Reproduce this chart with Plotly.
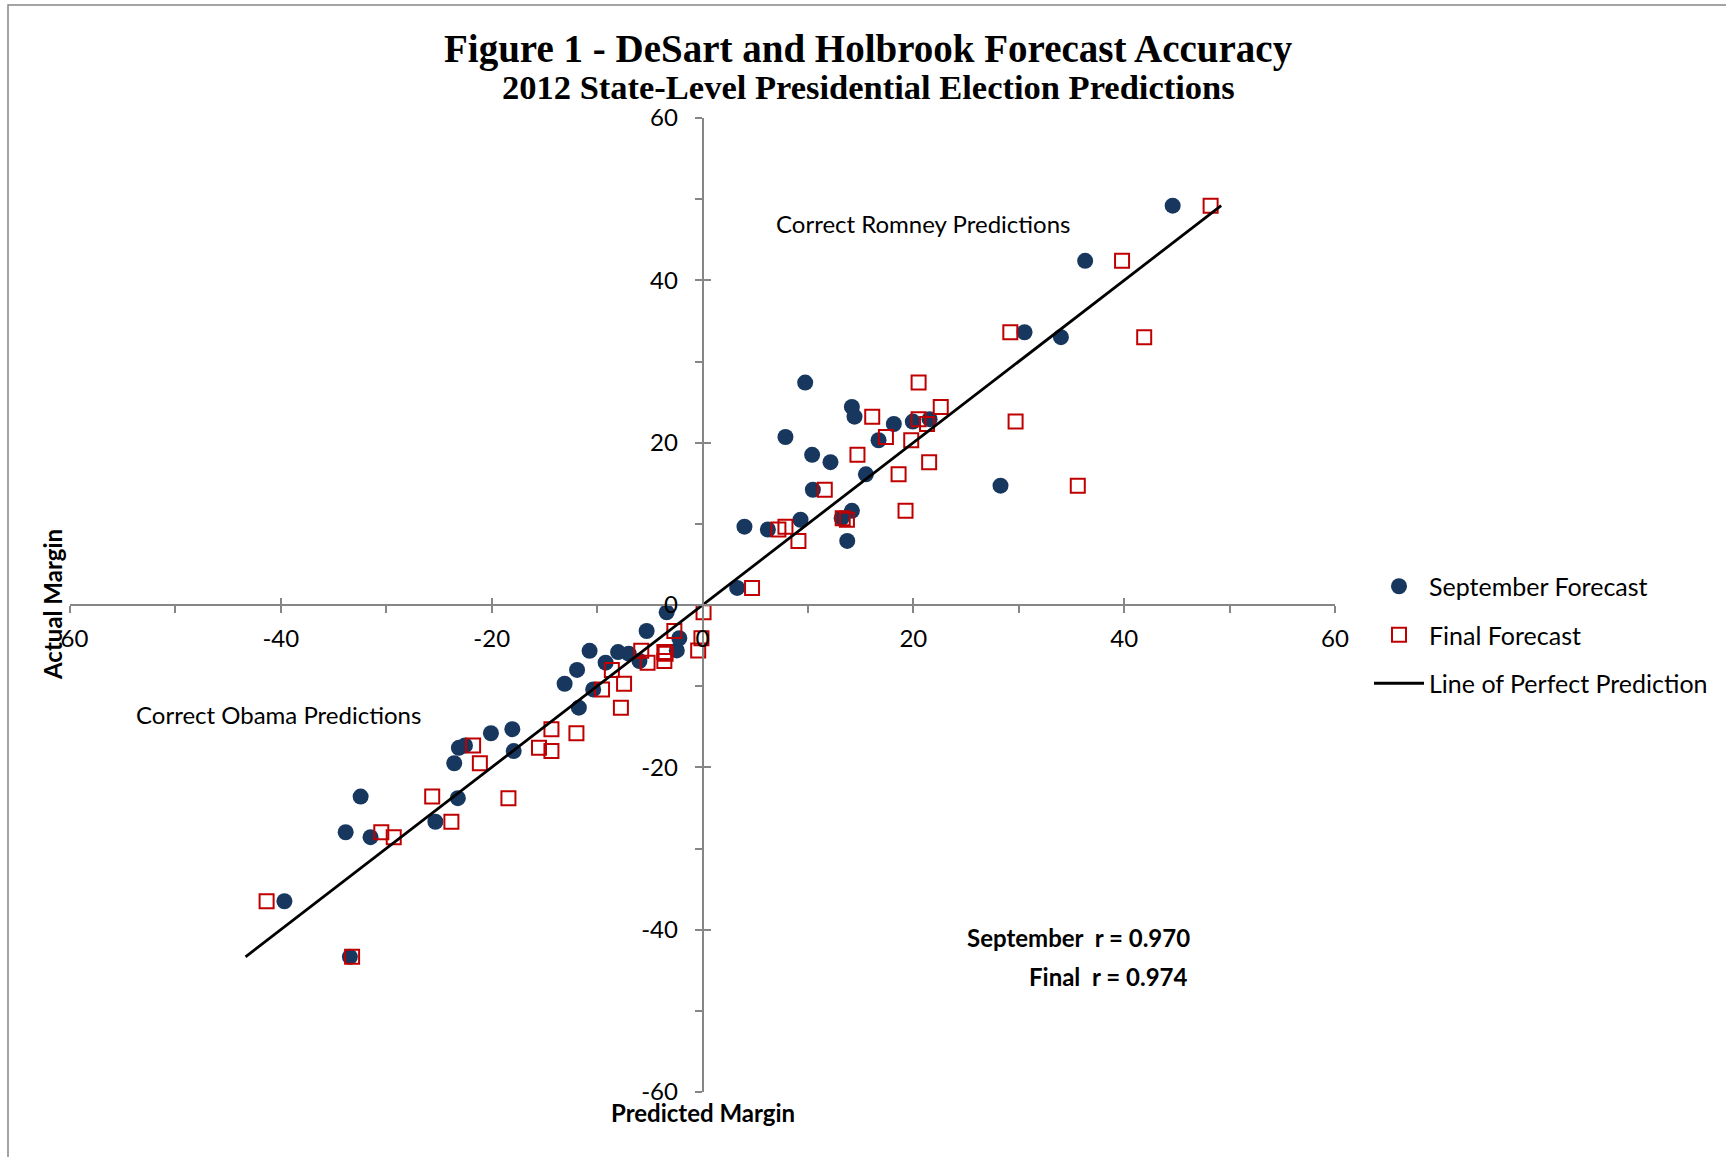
import plotly.graph_objects as go

# ---- data ----
# actual two-party margin (Romney minus Obama), one value per state
actual = [-43.35, -36.5, -28.6, -28.0, -26.7, -23.8, -23.6, -19.5, -18.0, -17.6,
          -17.3, -15.8, -15.3, -12.65, -10.4, -9.7, -8.0, -7.1, -6.9, -6.0,
          -5.8, -5.65, -5.6, -4.1, -3.2, -0.9,
          2.1, 7.9, 9.3, 9.65, 10.5, 10.7, 11.6, 14.2, 14.7, 16.1,
          17.6, 18.5, 20.3, 20.7, 22.3, 22.6, 22.9, 23.2, 24.4, 27.4,
          33.0, 33.6, 42.4, 49.2]
# September forecast margin
september = [-33.45, -39.66, -31.49, -33.85, -25.34, -23.21, -32.43, -23.55, -17.91, -23.11,
             -22.53, -20.07, -18.04, -11.73, -10.37, -13.08, -11.9, -9.19, -5.98, -7.0,
             -8.01, -10.71, -2.44, -2.2, -5.3, -3.4,
             3.29, 13.73, 6.2, 3.98, 9.3, 13.2, 14.17, 10.47, 28.27, 15.5,
             12.14, 10.4, 16.7, 7.87, 18.15, 19.95, 21.54, 14.42, 14.17, 9.74,
             34.0, 30.55, 36.3, 44.6]
# Final forecast margin
final = [-33.24, -41.35, -29.29, -30.47, -23.82, -18.41, -25.64, -21.12, -14.33, -15.51,
         -21.76, -11.96, -14.33, -7.74, -9.53, -7.44, -8.6, -5.21, -3.62, -3.5,
         -3.62, -5.81, -0.41, -0.1, -2.67, 0.1,
         4.7, 9.1, 7.2, 7.87, 13.7, 13.3, 19.26, 11.6, 35.6, 18.6,
         21.5, 14.7, 19.8, 17.4, 21.3, 29.7, 20.5, 16.1, 22.6, 20.5,
         41.9, 29.2, 39.8, 48.2]

axis_ticks = [-60, -40, -20, 0, 20, 40, 60]

title_text = "Figure 1 - DeSart and Holbrook Forecast Accuracy"
subtitle_text = "2012 State-Level Presidential Election Predictions"

# ---- layout geometry ----
W, H = 1726, 1157
ML, MR, MT, MB = 70, 391, 118, 65
PW, PH = W - ML - MR, H - MT - MB


def px(x):
    return (x - ML) / PW


def py(y):
    return (H - MB - y) / PH


BODY = "Lato"
SERIF = "Liberation Serif"
AXC = "#868686"

line_min, line_max = min(actual), max(actual)

fig = go.Figure()
fig.add_trace(go.Scatter(
    x=september, y=actual, mode="markers", name="September Forecast",
    legendgroup="a",
    marker=dict(symbol="circle", size=16, color="#17375E", line=dict(width=0))))
fig.add_trace(go.Scatter(
    x=final, y=actual, mode="markers", name="Final Forecast",
    legendgroup="b",
    marker=dict(symbol="square-open", size=14, color="#C00000", line=dict(width=2, color="#C00000"))))
fig.add_trace(go.Scatter(
    x=[line_min, line_max], y=[line_min, line_max], mode="lines",
    name="Line of Perfect Prediction", legendgroup="c",
    line=dict(color="black", width=2.8), xaxis="x2", yaxis="y2"))

common = dict(range=[-60, 60], showgrid=False, zeroline=False, anchor="free", position=0.5)

fig.update_layout(
    width=W, height=H,
    margin=dict(l=ML, r=MR, t=MT, b=MB),
    paper_bgcolor="white", plot_bgcolor="white",
    font=dict(family=BODY, size=24, color="black"),
    showlegend=True,
    legend=dict(x=px(1369), y=py(563.5), xanchor="left", yanchor="top",
                font=dict(family=BODY, size=25, color="black"),
                tracegroupgap=13, itemwidth=50, bgcolor="rgba(0,0,0,0)"),
    xaxis=dict(**common, showline=True, linecolor=AXC, linewidth=1.5,
               ticks="outside", ticklen=7, tickwidth=1.5, tickcolor=AXC,
               tickvals=axis_ticks, ticktext=[str(v) for v in axis_ticks],
               ticklabelstandoff=5,
               tickfont=dict(family=BODY, size=24, color="black"),
               minor=dict(ticks="outside", ticklen=7, tickwidth=1.5, tickcolor=AXC,
                          dtick=10, tick0=0, showgrid=False)),
    yaxis=dict(**common, showline=True, linecolor=AXC, linewidth=1.5,
               ticks="outside", ticklen=7, tickwidth=1.5, tickcolor=AXC,
               tickvals=axis_ticks, ticktext=[str(v) for v in axis_ticks],
               ticklabelstandoff=12,
               tickfont=dict(family=BODY, size=24, color="black"),
               minor=dict(ticks="outside", ticklen=7, tickwidth=1.5, tickcolor=AXC,
                          dtick=10, tick0=0, showgrid=False)),
    xaxis2=dict(**common, overlaying="x", showline=False, ticks="inside", ticklen=7,
                tickwidth=1.5, tickcolor=AXC, tickvals=axis_ticks, showticklabels=False),
    yaxis2=dict(**common, overlaying="y", showline=False, ticks="inside", ticklen=7,
                tickwidth=1.5, tickcolor=AXC, tickvals=axis_ticks, showticklabels=False),
)

annots = [
    dict(text="<b>" + title_text + "</b>", x=px(868), y=py(49), font=dict(family=SERIF, size=39)),
    dict(text="<b>" + subtitle_text + "</b>", x=px(868), y=py(87), font=dict(family=SERIF, size=34.5)),
    dict(text="Correct Romney Predictions", x=px(923), y=py(223)),
    dict(text="Correct Obama Predictions", x=px(278), y=py(714)),
    dict(text="<b>September\u00a0 r = 0.970</b>", x=px(1192), y=py(938), xanchor="right"),
    dict(text="<b>Final\u00a0 r = 0.974</b>", x=px(1189), y=py(976), xanchor="right"),
    dict(text="<b>Predicted Margin</b>", x=px(703), y=py(1112)),
    dict(text="<b>Actual Margin</b>", x=px(52), y=py(605), textangle=-90),
]
for a in annots:
    base = dict(xref="paper", yref="paper", showarrow=False, xanchor="center", yanchor="middle",
                font=dict(family=BODY, size=24, color="black"))
    base.update(a)
    if "font" in a:
        f = dict(family=BODY, size=24, color="black")
        f.update(a["font"])
        base["font"] = f
    fig.add_annotation(**base)

# outer chart frame
fig.add_shape(type="rect", xref="paper", yref="paper",
              x0=px(8), x1=px(W + 10), y0=py(H + 10), y1=py(5),
              line=dict(color=AXC, width=1.5), fillcolor="rgba(0,0,0,0)", layer="below")

fig.write_html("out.html", config={"displayModeBar": False},
               post_script="document.body.style.margin='0';")
